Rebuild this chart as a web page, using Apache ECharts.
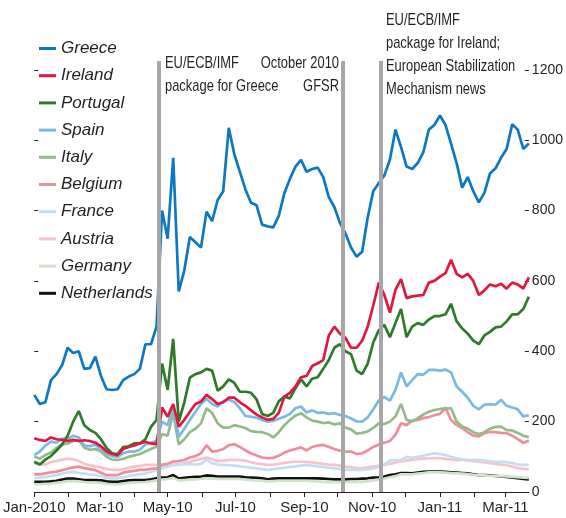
<!DOCTYPE html>
<html>
<head>
<meta charset="utf-8">
<script src="https://cdn.jsdelivr.net/npm/echarts@6/dist/echarts.min.js"></script>
<style>
html,body{margin:0;padding:0;background:#fff;}
#chart{width:566px;height:518px;}
</style>
</head>
<body>
<div id="chart"></div>
<script>
// Sample dates (every 5 days)
const dates = [
'2010-01-01','2010-01-06','2010-01-11','2010-01-16','2010-01-21','2010-01-26','2010-01-31','2010-02-05','2010-02-10','2010-02-15',
'2010-02-20','2010-02-25','2010-03-02','2010-03-07','2010-03-12','2010-03-17','2010-03-22','2010-03-27','2010-04-01','2010-04-06',
'2010-04-11','2010-04-16','2010-04-21','2010-04-26','2010-05-01','2010-05-06','2010-05-11','2010-05-16','2010-05-21','2010-05-26',
'2010-05-31','2010-06-05','2010-06-10','2010-06-15','2010-06-20','2010-06-25','2010-06-30','2010-07-05','2010-07-10','2010-07-15',
'2010-07-20','2010-07-25','2010-07-30','2010-08-04','2010-08-09','2010-08-14','2010-08-19','2010-08-24','2010-08-29','2010-09-03',
'2010-09-08','2010-09-13','2010-09-18','2010-09-23','2010-09-28','2010-10-03','2010-10-08','2010-10-13','2010-10-18','2010-10-23',
'2010-10-28','2010-11-02','2010-11-07','2010-11-12','2010-11-17','2010-11-22','2010-11-27','2010-12-02','2010-12-07','2010-12-12',
'2010-12-17','2010-12-22','2010-12-27','2011-01-01','2011-01-06','2011-01-11','2011-01-16','2011-01-21','2011-01-26','2011-01-31',
'2011-02-05','2011-02-10','2011-02-15','2011-02-20','2011-02-25','2011-03-02','2011-03-07','2011-03-12','2011-03-17','2011-03-22'
];

const greece = [276,250,255,318,335,360,410,395,400,350, 352,385,330,292,290,292,318,328,335,350, 420,420,470,800,720,950,570,630,725,710,
 695,797,770,830,855,1035,960,910,860,822, 815,760,755,752,785,849,890,925,944,910, 918,922,895,838,810,765,735,695,669,683,
 780,855,878,900,945,1030,980,925,918,935, 965,1030,1043,1070,1043,990,935,865,895,855, 823,850,905,920,950,975,1045,1030,975,991];
const ireland = [153,148,145,155,150,148,145,148,145,147, 145,140,130,115,108,105,122,128,132,138, 143,138,136,240,214,250,186,205,228,250,
 257,276,264,250,255,268,268,255,245,232, 220,212,205,208,225,271,282,300,326,330, 358,366,375,445,470,450,438,410,410,430,
 470,530,595,560,510,575,605,551,556,558, 560,595,600,612,622,660,620,610,620,600, 560,573,590,585,592,578,595,590,578,610];
const portugal = [86,78,92,102,118,135,160,200,230,190, 176,168,150,125,110,108,128,130,138,138, 150,185,205,365,290,435,200,255,325,335,
 340,350,345,288,300,320,310,285,285,282, 263,222,216,225,258,271,266,295,320,300, 322,326,350,375,410,420,400,392,345,335,
 365,425,460,475,440,480,520,440,470,480, 475,490,500,500,505,535,485,465,450,430, 420,445,455,468,470,485,505,505,520,555];
const spain = [105,115,132,143,140,152,150,160,155,132, 130,135,120,108,102,100,110,115,115,120, 135,140,145,200,190,245,157,180,205,228,
 250,265,250,243,257,262,256,238,216,214, 211,205,200,202,208,214,222,238,243,226, 232,225,226,222,224,219,216,209,201,200,
 212,235,260,270,260,290,340,300,318,335, 333,347,347,345,348,340,300,285,268,245, 235,248,250,248,262,245,240,235,215,218];
const italy = [100,95,105,112,125,135,138,145,148,126, 120,122,115,100,92,91,94,100,104,108, 115,122,129,165,160,225,135,150,170,180,
 195,238,225,195,183,183,190,186,182,173, 171,170,165,155,170,190,205,217,224,212, 203,200,196,198,192,195,183,178,166,168,
 172,182,195,193,200,215,250,205,200,210, 220,228,233,236,237,238,200,186,180,170, 165,170,180,185,186,176,175,168,160,156];
const belgium = [50,50,53,56,58,62,66,70,72,68, 65,62,55,48,48,48,55,58,60,63, 63,66,67,77,80,87,88,91,98,102,
 110,133,115,117,122,133,136,128,118,110, 104,98,96,97,103,112,118,122,127,118, 128,132,134,128,122,118,115,115,108,110,
 118,128,135,140,145,163,195,190,203,205, 210,213,218,222,240,205,190,182,170,160, 158,167,171,170,168,167,160,150,140,146];
const france = [39,41,43,45,48,52,56,57,54,52, 50,48,45,40,39,39,42,46,48,50, 53,57,62,68,72,76,78,80,79,78,
 80,92,82,78,77,76,75,73,71,69, 67,65,63,65,67,69,71,73,75,77, 75,73,71,69,67,65,63,63,63,63,
 64,67,72,78,90,91,91,100,97,100, 103,107,110,108,105,100,96,93,91,91, 91,89,87,86,86,85,82,78,77,77];
const austria = [81,79,78,86,88,92,95,93,88,80, 76,73,70,65,63,63,65,69,72,74, 77,77,77,77,77,78,79,82,86,90,
 94,98,93,88,89,91,91,91,89,85, 81,79,77,78,80,83,85,86,86,86, 84,82,80,78,77,75,72,70,68,67,
 70,72,74,77,80,84,87,89,91,93, 95,96,96,96,94,92,91,91,90,88, 86,84,82,80,78,76,72,68,66,65];
const germany = [22,22,23,24,26,28,31,31,30,28, 27,27,26,23,22,22,24,26,27,27, 28,30,33,35,37,40,33,34,35,36,
 37,39,38,37,37,37,37,37,35,34, 33,32,30,31,32,32,32,32,32,32, 31,30,29,28,28,28,28,28,28,29,
 31,33,35,38,42,45,50,50,50,52, 54,56,56,56,55,54,53,52,51,49, 48,47,46,46,45,44,43,42,41,40];
const netherlands = [29,29,29,30,32,35,38,38,36,34, 34,34,33,30,29,29,31,33,34,34, 34,36,39,41,42,48,38,40,42,43,
 44,47,46,44,44,44,44,44,42,41, 40,39,36,38,39,39,39,39,39,39, 39,39,38,37,36,36,36,37,37,38,
 39,41,42,44,48,50,54,54,53,55, 57,58,58,58,57,56,55,54,53,50, 48,48,47,46,44,43,41,39,37,36];

const seriesNames = ['Greece','Ireland','Portugal','Spain','Italy','Belgium','France','Austria','Germany','Netherlands'];
const seriesValues = [greece, ireland, portugal, spain, italy, belgium, france, austria, germany, netherlands];
const seriesColors = ['#0b78c1','#e3173e','#2f7a2a','#7ab9e3','#93bb8a','#ef8d9a','#c3def2','#f8c2cc','#cfe3cb','#111111'];

// Axis ticks and labels
const yTicks = [0,200,400,600,800,1000,1200];
const monthTicks = ['2010-01-01','2010-02-01','2010-03-01','2010-04-01','2010-05-01','2010-06-01','2010-07-01','2010-08-01',
  '2010-09-01','2010-10-01','2010-11-01','2010-12-01','2011-01-01','2011-02-01','2011-03-01'];
const labelDates = ['2010-01-01','2010-03-01','2010-05-01','2010-07-01','2010-09-01','2010-11-01','2011-01-01','2011-03-01'];
const labelTexts = ['Jan-2010','Mar-10','May-10','Jul-10','Sep-10','Nov-10','Jan-11','Mar-11'];
const xStart = '2010-01-01', xEnd = '2011-03-22';
const eventDates = ['2010-04-23','2010-10-06','2010-11-09'];

const txt = '#231f20';
const sans = '"Liberation Sans",Arial,sans-serif';

function ts(s) { const p = s.split('-').map(Number); return Date.UTC(p[0], p[1] - 1, p[2]); }
const labelMap = {};
labelDates.forEach((d, i) => { labelMap[ts(d)] = labelTexts[i]; });

const series = [];
for (let i = seriesNames.length - 1; i >= 0; i--) {
  series.push({
    name: seriesNames[i],
    type: 'line',
    showSymbol: false,
    symbol: 'none',
    lineStyle: {width: 2.7, color: seriesColors[i]},
    itemStyle: {color: seriesColors[i]},
    data: dates.map((d, k) => [ts(d), seriesValues[i][k]]),
    z: 2
  });
}
series.push({
  name: 'events', type: 'line', data: [], silent: true, z: 3,
  markLine: {
    symbol: ['none','none'], silent: true, label: {show: false},
    lineStyle: {color: '#a7a7a9', width: 4, type: 'solid'},
    data: eventDates.map(d => ({xAxis: ts(d)}))
  }
});

const chart = echarts.init(document.getElementById('chart'), null, {renderer: 'canvas'});
chart.setOption({
  animation: false,
  backgroundColor: '#fff',
  grid: {left: 34, right: 35, top: 61, bottom: 26, containLabel: false},
  legend: {
    data: seriesNames,
    orient: 'vertical', left: 39, top: 40, padding: 0,
    icon: 'rect', itemWidth: 17, itemHeight: 3, itemGap: 10.2,
    textStyle: {fontStyle: 'italic', fontSize: 17, fontFamily: sans, color: txt}
  },
  xAxis: {
    type: 'value',
    min: ts(xStart), max: ts(xEnd),
    axisLine: {show: true, lineStyle: {color: txt, width: 1}},
    axisTick: {show: true, length: 5, customValues: monthTicks.map(ts), lineStyle: {color: txt}},
    splitLine: {show: false},
    axisLabel: {
      customValues: labelDates.map(ts),
      color: txt, fontSize: 15, fontFamily: sans, margin: 8, hideOverlap: false,
      formatter: v => labelMap[v] || ''
    }
  },
  yAxis: [{
    type: 'value', position: 'right', min: 0, max: 1225,
    axisLine: {show: false},
    splitLine: {show: false},
    axisTick: {show: true, inside: true, length: 4, customValues: yTicks, lineStyle: {color: txt}},
    axisLabel: {customValues: yTicks, color: txt, fontSize: 14, fontFamily: sans, margin: 3, formatter: v => String(v)}
  }, {
    type: 'value', position: 'left', min: 0, max: 1225,
    axisLine: {show: false},
    splitLine: {show: false},
    axisTick: {show: true, inside: true, length: 4, customValues: yTicks, lineStyle: {color: txt}},
    axisLabel: {show: false}
  }],
  graphic: [
    {type: 'text', x: 165, y: 52, scaleX: 0.76, style: {text: 'EU/ECB/IMF\npackage for Greece', font: '17px ' + sans, lineHeight: 23, fill: txt, align: 'left', verticalAlign: 'top'}},
    {type: 'text', x: 339, y: 52, scaleX: 0.76, style: {text: 'October 2010\nGFSR', font: '17px ' + sans, lineHeight: 23, fill: txt, align: 'right', verticalAlign: 'top'}},
    {type: 'text', x: 386, y: 9, scaleX: 0.76, style: {text: 'EU/ECB/IMF\npackage for Ireland;\nEuropean Stabilization\nMechanism news', font: '17px ' + sans, lineHeight: 23, fill: txt, align: 'left', verticalAlign: 'top'}}
  ],
  series: series
});
</script>
</body>
</html>
